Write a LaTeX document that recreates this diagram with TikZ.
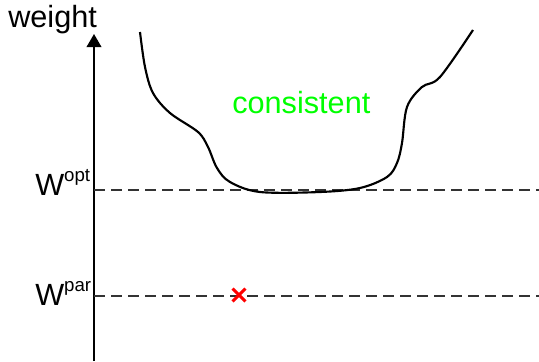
\documentclass[tikz,border=0pt]{standalone}
\usepackage{fontspec}
\setmainfont{Liberation Sans}
\usetikzlibrary{arrows.meta, shapes.misc}
\tikzset{
  axis/.style={
    -{Triangle[length=9.75pt, width=11pt]}, line width=1.1pt, draw=black,
  },
  level/.style={
    line width=1.1pt, draw=black!80, dash pattern=on 8.25pt off 4.5pt,
  },
  valley/.style={
    line width=1.6pt, draw=black, line join=round,
  },
  lbl/.style={
    font=\fontsize{23}{27}\selectfont, inner sep=0pt, anchor=base west,
  },
  mark x/.style={
    cross out, draw=red, line width=2.2pt, minimum size=7.5pt, inner sep=0pt,
  }
}
\newcommand{\wsup}[1]{W\raisebox{10.5pt}{\fontsize{14}{14}\selectfont #1}}

\begin{document}
\begin{tikzpicture}[x={(0.75pt,0)}, y={(0,-0.75pt)}]
  \useasboundingbox (0,0) rectangle (539,361);

  % axis
  \coordinate (o)   at (94,361);
  \coordinate (top) at (94,34);
  \draw[axis] (o) -- (top);
  \node[lbl] (ylab) at (8,27) {weight};

  % levels
  \coordinate (opt0) at (94,190);
  \coordinate (opt1) at (539,190);
  \coordinate (par0) at (94,296);
  \coordinate (par1) at (539,296);
  \draw[level] (opt0) -- (opt1);
  \draw[level] (par0) -- (par1);
  \node[lbl] (wopt) at (35,195) {\wsup{opt}};
  \node[lbl] (wpar) at (35,305) {\wsup{par}};

  % region
  \draw[valley] plot[smooth, tension=0.55] coordinates {
    (140,32) (145,67) (153,93) (170,113) (198,132) (208,147) (217,168)
    (230,182) (260,192) (320,192) (360,188) (387,177) (397,163)
    (402,143) (407,107) (422,87) (440,77) (473,30)};
  \node[lbl, text=green] (cons) at (232,113) {consistent};

  \node[mark x] (par) at (239,295) {};

\end{tikzpicture}
\end{document}
